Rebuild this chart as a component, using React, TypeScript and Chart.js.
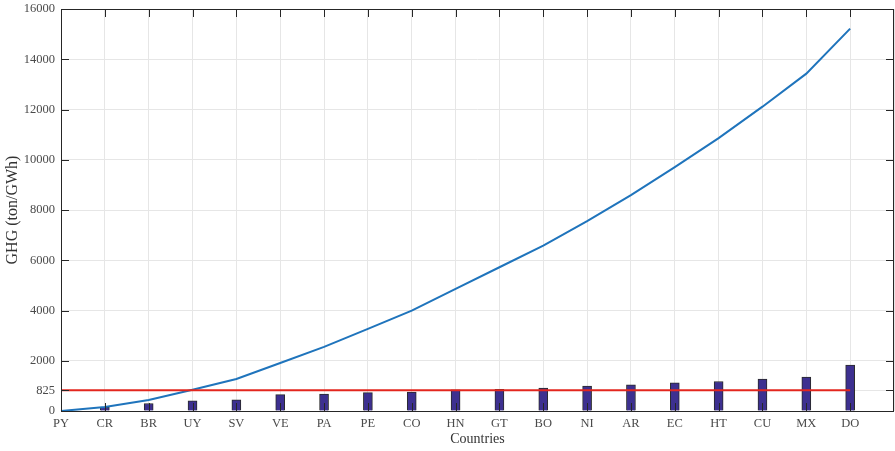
import React, { useEffect, useRef } from "react";
import { Chart, registerables } from "chart.js";

Chart.register(...registerables);

const categories = ["PY", "CR", "BR", "UY", "SV", "VE", "PA", "PE", "CO", "HN", "GT", "BO", "NI", "AR", "EC", "HT", "CU", "MX", "DO"];
const ghgPerCountry = [0, 145, 300, 405, 440, 650, 670, 730, 750, 840, 860, 910, 990, 1045, 1120, 1175, 1270, 1350, 1830];
const cumulativeGhg = [0, 160, 440, 849, 1275, 1912, 2550, 3267, 3996, 4861, 5721, 6586, 7554, 8590, 9705, 10860, 12112, 13426, 15219];
const averageLine = [825, 825, 825, 825, 825, 825, 825, 825, 825, 825, 825, 825, 825, 825, 825, 825, 825, 825, 825];
const yTickValues = [0, 825, 2000, 4000, 6000, 8000, 10000, 12000, 14000, 16000];

const FONT = "'Liberation Serif', 'Times New Roman', serif";

const framePlugin = {
  id: "matlabFrame",
  afterDatasetsDraw(chart: any) {
    const { ctx, chartArea, scales } = chart;
    const { left, right, top, bottom } = chartArea;
    const L = 8;
    ctx.save();
    ctx.strokeStyle = "#262626";
    ctx.lineWidth = 1;
    ctx.beginPath();
    for (let i = 0; i < categories.length; i++) {
      const x = Math.round(scales.x.getPixelForValue(i)) + 0.5;
      ctx.moveTo(x, bottom);
      ctx.lineTo(x, bottom - L);
      ctx.moveTo(x, top);
      ctx.lineTo(x, top + L);
    }
    for (const v of yTickValues) {
      const y = Math.round(scales.y.getPixelForValue(v)) + 0.5;
      ctx.moveTo(left, y);
      ctx.lineTo(left + L, y);
      ctx.moveTo(right, y);
      ctx.lineTo(right - L, y);
    }
    ctx.stroke();
    ctx.strokeRect(Math.round(left) + 0.5, Math.round(top) + 0.5, Math.round(right - left) - 1, Math.round(bottom - top));
    ctx.restore();
  },
};

export default function App() {
  const canvasRef = useRef<HTMLCanvasElement | null>(null);

  useEffect(() => {
    const canvas = canvasRef.current;
    if (!canvas) return;
    const chart = new Chart(canvas, {
      type: "bar",
      data: {
        labels: [...categories, ""],
        datasets: [
          {
            type: "line",
            label: "Threshold",
            data: averageLine,
            borderColor: "#e3261e",
            borderWidth: 2,
            pointRadius: 0,
            tension: 0,
            order: 1,
          } as any,
          {
            type: "line",
            label: "Cumulative",
            data: cumulativeGhg,
            borderColor: "#1f74bc",
            borderWidth: 2,
            pointRadius: 0,
            tension: 0,
            order: 2,
          } as any,
          {
            type: "bar",
            label: "GHG",
            data: ghgPerCountry,
            backgroundColor: "#3d3090",
            borderColor: "#2a2a2a",
            borderWidth: 1,
            barThickness: 9,
            order: 3,
          } as any,
        ],
      },
      options: {
        animation: false,
        responsive: true,
        maintainAspectRatio: false,
        layout: { padding: { top: 9, right: 1, left: 0, bottom: 0 } },
        plugins: { legend: { display: false }, tooltip: { enabled: false } },
        scales: {
          x: {
            type: "category",
            offset: false,
            grid: { offset: false, color: "#e6e6e6", drawTicks: false, tickLength: 0 },
            border: { display: false },
            ticks: {
              autoSkip: false,
              maxRotation: 0,
              padding: 5,
              color: "#4a4a4a",
              font: { family: FONT, size: 12.5 },
            },
            title: {
              display: true,
              text: "Countries",
              color: "#333",
              font: { family: FONT, size: 14 },
              padding: { top: 2, bottom: 3 },
            },
            afterFit: (scale: any) => {
              scale.height = 40;
              scale.paddingLeft = 0;
              scale.paddingRight = 0;
            },
          },
          y: {
            type: "linear",
            min: 0,
            max: 16000,
            grid: { color: "#e6e6e6", drawTicks: false, tickLength: 0 },
            border: { display: false },
            afterBuildTicks: (scale: any) => {
              scale.ticks = yTickValues.map((v) => ({ value: v }));
            },
            ticks: {
              padding: 6,
              color: "#4a4a4a",
              font: { family: FONT, size: 12.5 },
              callback: (v: any) => String(v),
            },
            title: {
              display: true,
              text: "GHG (ton/GWh)",
              color: "#333",
              font: { family: FONT, size: 16 },
              padding: { top: 3, bottom: 0 },
            },
            afterFit: (scale: any) => {
              scale.width = 61;
              scale.paddingTop = 0;
              scale.paddingBottom = 0;
            },
          },
        },
      },
      plugins: [framePlugin],
    } as any);
    return () => chart.destroy();
  }, []);

  return (
    <div style={{ position: "fixed", left: 0, top: 0, width: 895, height: 451, background: "#fff" }}>
      <canvas ref={canvasRef} />
    </div>
  );
}
